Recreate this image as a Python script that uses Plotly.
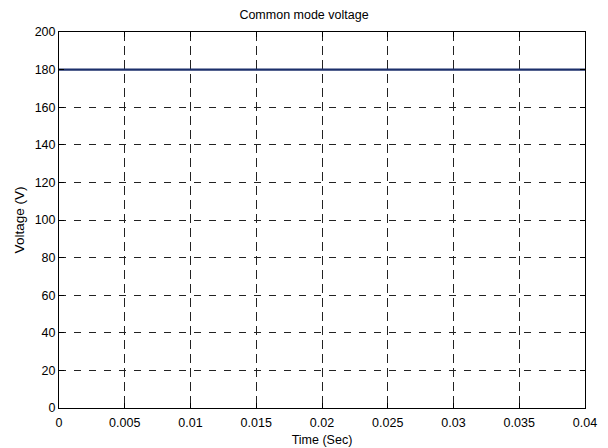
import plotly.graph_objects as go

time_s = [0.0, 0.01, 0.02, 0.03, 0.04]
voltage_v = [180, 180, 180, 180, 180]
x_ticks = [0, 0.005, 0.01, 0.015, 0.02, 0.025, 0.03, 0.035, 0.04]
x_labels = ["0", "0.005", "0.01", "0.015", "0.02", "0.025", "0.03", "0.035", "0.04"]
y_ticks = [0, 20, 40, 60, 80, 100, 120, 140, 160, 180, 200]

fig = go.Figure()
fig.add_trace(go.Scatter(x=time_s, y=voltage_v, mode="lines",
                         line=dict(color="#1c2f6b", width=2.2), showlegend=False))

axis_common = dict(
    showline=True, linecolor="black", linewidth=1, mirror="allticks",
    ticks="inside", ticklen=5, tickcolor="black",
    showgrid=True, gridcolor="#222222", gridwidth=1,
    zeroline=False, automargin=False,
    tickfont=dict(family="Liberation Sans, Arial", size=12.5, color="black"),
)

fig.update_layout(
    width=608, height=448,
    margin=dict(l=59, r=23, t=32, b=40),
    paper_bgcolor="white", plot_bgcolor="white",
    font=dict(family="Liberation Sans, Arial", size=12.5, color="black"),
    title=dict(text="Common mode voltage", x=0.5, xanchor="center",
               y=1 - 15 / 448, yanchor="middle", font=dict(size=12.5)),
    xaxis=dict(range=[0, 0.04], tickvals=x_ticks, ticktext=x_labels, griddash="9px,5px",
               ticklabelstandoff=3,
               title=dict(text="Time (Sec)", standoff=6, font=dict(size=12.5)), **axis_common),
    yaxis=dict(range=[0, 200], tickvals=y_ticks, griddash="7px,8px",
               title=dict(text="Voltage (V)", standoff=6, font=dict(size=13.5)), **axis_common),
)

fig.write_html("out.html", post_script="document.body.style.margin='0';",
               config={"displayModeBar": False})
